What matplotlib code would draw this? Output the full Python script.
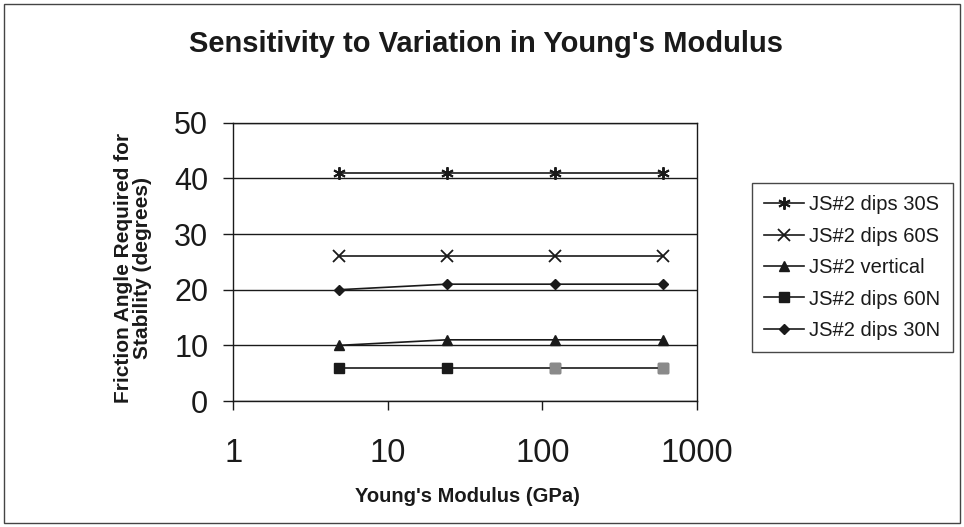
import matplotlib
matplotlib.use("Agg")
import matplotlib.pyplot as plt
from matplotlib.patches import Rectangle
from matplotlib.ticker import FixedLocator, NullLocator

plt.rcParams['font.family'] = ['Liberation Sans', 'DejaVu Sans']

# Young's modulus values (GPa)
modulus = [4.8, 24, 120, 600]

# friction angle required for stability (degrees)
dips_30s = [41, 41, 41, 41]
dips_60s = [26, 26, 26, 26]
vertical = [10, 11, 11, 11]
dips_60n = [6, 6, 6, 6]
dips_30n = [20, 21, 21, 21]

series_labels = ["JS#2 dips 30S", "JS#2 dips 60S", "JS#2 vertical",
                 "JS#2 dips 60N", "JS#2 dips 30N"]

fig = plt.figure(figsize=(9.64, 5.27), dpi=100)
ax = fig.add_axes([0.242, 0.239, 0.481, 0.528])

ink = "#1a1a1a"
ax.plot(modulus, dips_30s, color=ink, lw=1.2, marker=(6, 2, 0), ms=9, mew=1.4,
        label=series_labels[0])
ax.plot(modulus, dips_60s, color=ink, lw=1.2, marker="x", ms=8, mew=1.3,
        label=series_labels[1])
ax.plot(modulus, vertical, color=ink, lw=1.2, marker="^", ms=7,
        label=series_labels[2])
ax.plot(modulus, dips_60n, color=ink, lw=1.2, marker="s", ms=7,
        label=series_labels[3])
# the last two squares look grey in the scan
ax.plot(modulus[2:], dips_60n[2:], ls="none", marker="s", ms=7, color="#8a8a8a")
ax.plot(modulus, dips_30n, color=ink, lw=1.2, marker="D", ms=5.5,
        label=series_labels[4])

ax.set_xscale("log")
ax.set_xlim(1, 1000)
ax.set_ylim(0, 50)
ax.xaxis.set_major_locator(FixedLocator([1, 10, 100, 1000]))
ax.xaxis.set_minor_locator(NullLocator())
ax.set_xticklabels(["1", "10", "100", "1000"])
ax.set_yticks([0, 10, 20, 30, 40, 50])
ax.grid(axis="y", color=ink, lw=1.0)
ax.tick_params(axis="both", direction="out", width=1, color=ink, labelcolor=ink)
ax.tick_params(axis="x", length=6.5, pad=20, labelsize=23.5)
ax.tick_params(axis="y", length=7, pad=11, labelsize=22)
for s in ax.spines.values():
    s.set_color(ink)
    s.set_linewidth(1.0)

fig.text(467 / 964, 1 - 497 / 527, "Young's Modulus (GPa)", ha="center",
         va="center", fontsize=14.5, fontweight="bold", color=ink)
fig.text(133 / 964, 1 - 268 / 527, "Friction Angle Required for\nStability (degrees)",
         ha="center", va="center", rotation=90, multialignment="center",
         fontsize=15, fontweight="bold", color=ink, linespacing=1.05)

fig.text(486 / 964, 1 - 44 / 527, "Sensitivity to Variation in Young's Modulus",
         ha="center", va="center", fontsize=21, fontweight="bold", color=ink)

handles, labels = ax.get_legend_handles_labels()
leg = fig.legend(handles, labels, loc="upper left",
                 bbox_to_anchor=(752 / 964, 1 - 183 / 527), fontsize=14.5,
                 frameon=True, fancybox=False, edgecolor=ink, handlelength=2.0,
                 handletextpad=0.25, labelspacing=0.62, borderpad=0.6,
                 borderaxespad=0)
leg.get_frame().set_linewidth(1.0)
for t in leg.get_texts():
    t.set_color(ink)

fig.add_artist(Rectangle((0.004, 0.008), 0.992, 0.984, transform=fig.transFigure,
                         fill=False, edgecolor="#444444", lw=1.0))

fig.savefig("out.png", dpi=100)
